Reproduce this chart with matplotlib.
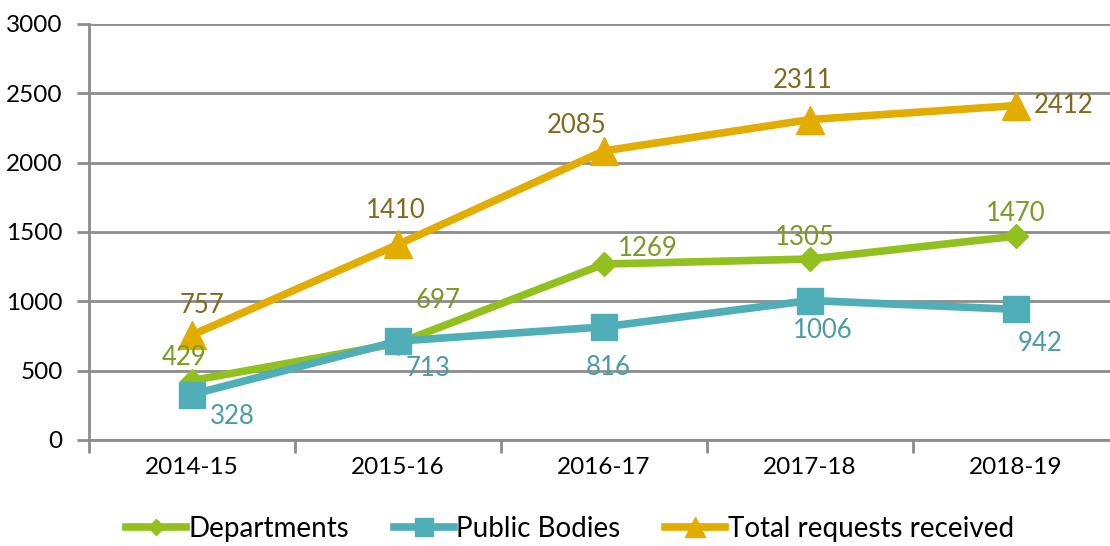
import numpy as np
import matplotlib.pyplot as plt

years = ['2014-15', '2015-16', '2016-17', '2017-18', '2018-19']
departments = [429, 697, 1269, 1305, 1470]
public_bodies = [328, 713, 816, 1006, 942]
total_requests = [757, 1410, 2085, 2311, 2412]

# label offsets in pixels (dx right, dy down) from each point
dept_offsets = [(-8, -23), (40, -43), (44, -16), (-5, -22), (0, -23)]
pub_offsets = [(40, 22), (30, 27), (4, 41), (13, 30), (24, 34)]
tot_offsets = [(10, -30), (-2, -34), (-27, -25), (-7, -39), (48, 0)]

plt.rcParams['font.family'] = ['Lato', 'DejaVu Sans']

fig = plt.figure(figsize=(11.10, 5.46), dpi=100)
ax = fig.add_axes([89 / 1110, 106 / 546, 1030 / 1110, 416 / 546])
x = np.arange(len(years))

green = '#92C01F'
teal = '#4FAEB8'
gold = '#E2AC00'

ax.plot(x, departments, color=green, lw=5.5, marker='D', ms=12, label='Departments', zorder=3)
ax.plot(x, public_bodies, color=teal, lw=5.5, marker='s', ms=19, label='Public Bodies', zorder=4)
ax.plot(x, total_requests, color=gold, lw=5.5, marker='^', ms=20, label='Total requests received', zorder=5)

for vals, offs, col in [(departments, dept_offsets, '#7A9A24'),
                        (public_bodies, pub_offsets, '#4A9CA5'),
                        (total_requests, tot_offsets, '#7F6A1E')]:
    for xi, v, (dx, dy) in zip(x, vals, offs):
        ax.annotate(str(v), (xi, v), xytext=(dx * 0.72, -dy * 0.72), textcoords='offset points',
                    ha='center', va='center', fontsize=18.5, color=col, zorder=6)

ax.set_xlim(-0.5, 4.5)
ax.set_ylim(0, 3000)
ax.set_yticks(range(0, 3001, 500))
ax.set_xticks(x)
ax.set_xticklabels(years)
ax.set_xticks(np.arange(-0.5, 5, 1), minor=True)
ax.tick_params(axis='x', which='major', length=0, pad=12, labelsize=17.5)
ax.tick_params(axis='x', which='minor', length=9, width=2, color='#8C8C8C')
ax.tick_params(axis='y', length=9, width=2, color='#8C8C8C', labelsize=17.5, pad=10)
ax.yaxis.grid(True, color='#8C8C8C', lw=2)
ax.set_axisbelow(True)
for s in ['top', 'right']:
    ax.spines[s].set_visible(False)
ax.spines['left'].set_color('#8C8C8C')
ax.spines['left'].set_linewidth(2)
ax.spines['bottom'].set_color('#8C8C8C')
ax.spines['bottom'].set_linewidth(2)

fig.legend(loc='center', bbox_to_anchor=(570 / 1110, 1 - 529 / 546), ncol=3, frameon=False,
           fontsize=20, handlelength=2.15, handletextpad=0.1, columnspacing=1.6,
           markerscale=0.7)

fig.savefig('out.png', dpi=100)
